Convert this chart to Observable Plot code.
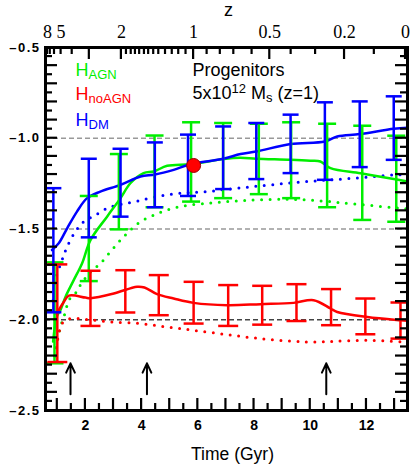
<!DOCTYPE html>
<html>
<head>
<meta charset="utf-8">
<script src="https://cdn.jsdelivr.net/npm/d3@7"></script>
<script src="https://cdn.jsdelivr.net/npm/@observablehq/plot@0.6"></script>
<style>
  body { margin: 0; background: white; }
  #chart svg g[aria-label="y-axis tick label"] text { letter-spacing: 1.5px; }
</style>
</head>
<body>
<div id="chart"></div>
<script>
// ---------- data ----------
// H_DM (blue)
const dmT  = [0.81, 1.05, 1.35, 1.70, 2.06, 2.53, 3.25, 3.96, 4.47, 5.14, 5.74, 6.9, 7.52, 8.08, 9.3, 10.52, 10.96, 11.76, 12.97, 13.46];
const dmV  = [-1.616, -1.579, -1.496, -1.404, -1.330, -1.294, -1.257, -1.211, -1.200, -1.174, -1.143, -1.113, -1.087, -1.073, -1.032, -1.018, -0.990, -0.977, -0.948, -0.942];
const dmDT = [0.85, 0.93, 1.17, 1.35, 1.64, 1.94, 2.36, 2.77, 3.19, 3.78, 4.43, 5.14, 5.74, 6.33, 7.04, 8.0, 9.18, 10.36, 11.55, 12.97, 13.46];
const dmDV = [-1.892, -1.782, -1.671, -1.598, -1.515, -1.460, -1.423, -1.386, -1.367, -1.349, -1.325, -1.307, -1.299, -1.294, -1.281, -1.266, -1.248, -1.233, -1.220, -1.202, -1.200];
const dmBarT  = [0.86, 2.12, 3.25, 4.47, 5.65, 6.9, 8.08, 9.3, 10.52, 11.76, 12.97];
const dmBarHi = [-1.275, -1.113, -1.058, -1.023, -0.980, -0.935, -0.916, -0.870, -0.802, -0.797, -0.769];
const dmBarLo = [-1.959, -1.546, -1.432, -1.380, -1.318, -1.280, -1.225, -1.192, -1.229, -1.159, -1.119];

// H_AGN (green)
const agnT  = [0.85, 0.99, 1.11, 1.29, 1.58, 1.88, 2.18, 2.77, 3.25, 3.6, 4.07, 4.43, 4.91, 5.74, 6.92, 7.5, 8.08, 9.3, 10.0, 10.36, 10.72, 11.79, 12.97, 13.46];
const agnV  = [-2.12, -1.98, -1.947, -1.874, -1.783, -1.69, -1.561, -1.432, -1.33, -1.248, -1.192, -1.183, -1.152, -1.143, -1.115, -1.108, -1.113, -1.119, -1.124, -1.128, -1.165, -1.193, -1.224, -1.238];
const agnDT = [0.9, 1.11, 1.29, 1.41, 1.64, 1.82, 2.18, 2.53, 2.89, 3.25, 3.6, 3.96, 4.43, 4.91, 5.5, 6.33, 7.04, 7.52, 7.99, 9.18, 10.36, 11.55, 13.21, 13.46];
const agnDV = [-2.2, -2.04, -1.957, -1.892, -1.855, -1.809, -1.736, -1.69, -1.625, -1.561, -1.506, -1.46, -1.423, -1.395, -1.373, -1.358, -1.349, -1.344, -1.34, -1.336, -1.345, -1.362, -1.386, -1.39];
const agnBarT  = [0.9, 2.12, 3.19, 4.46, 5.76, 6.9, 8.17, 9.32, 10.6, 11.85, 13.06];
const agnBarHi = [-1.684, -1.318, -1.087, -0.985, -0.912, -0.916, -0.920, -0.912, -0.920, -0.931, -0.986];
const agnBarLo = [-2.240, -1.787, -1.502, -1.380, -1.349, -1.330, -1.308, -1.330, -1.380, -1.450, -1.460];

// H_noAGN (red)
const noT  = [0.97, 1.05, 1.23, 1.41, 2.0, 2.18, 3.01, 3.84, 4.1, 4.55, 5.14, 5.85, 7.04, 8.23, 9.41, 10.12, 10.72, 10.96, 12.03, 13.21, 13.46];
const noV  = [-1.97, -1.947, -1.902, -1.867, -1.878, -1.881, -1.855, -1.818, -1.822, -1.859, -1.883, -1.907, -1.92, -1.914, -1.907, -1.892, -1.938, -1.957, -1.985, -2.003, -2.006];
const noDT = [0.92, 1.05, 1.17, 1.47, 2.06, 2.89, 3.96, 4.91, 5.85, 7.04, 8.23, 9.41, 10.12, 10.84, 12.03, 13.45];
const noDV = [-2.2, -2.08, -2.021, -1.993, -1.999, -2.012, -2.021, -2.04, -2.058, -2.082, -2.104, -2.119, -2.123, -2.119, -2.113, -2.123];
const noBarT  = [1.0, 2.18, 3.42, 4.61, 5.85, 7.08, 8.29, 9.51, 10.74, 11.96, 13.21];
const noBarHi = [-1.695, -1.730, -1.727, -1.754, -1.791, -1.809, -1.813, -1.804, -1.831, -1.883, -1.905];
const noBarLo = [-2.233, -2.034, -1.960, -1.975, -2.021, -2.034, -2.027, -2.007, -2.030, -2.080, -2.104];

// selected halo (z=1)
const markerT = [5.85];
const markerV = [-1.15];

// arrows
const arrowT = [1.47, 4.19, 10.57];
const arrowBase = -2.41;
const arrowTip = -2.24;

// reference levels
const refLevels = [-1.0, -1.5, -2.0];

// axes
const xDomain = [0.58, 13.46];
const yDomain = [-2.5, -0.5];
const xLabelTicks = [2, 4, 6, 8, 10, 12];
const yLabelTicks = [-2.5, -2.0, -1.5, -1.0, -0.5];
const zLabels = ["8", "5", "2", "1", "0.5", "0.2", "0"];
const zLabelTimes = [0.65, 1.135, 3.28, 5.85, 8.56, 11.22, 13.39];
const zMajorTimes = [2.14, 3.28, 5.85, 8.56, 11.22, 13.39];
const zMinorTimes = [0.65, 0.75, 0.9, 1.135, 1.53, 3.46, 3.63, 3.78, 3.93, 4.10, 4.25, 4.43, 4.61, 4.85, 5.09, 5.32, 5.58, 6.33, 6.80, 7.28, 7.93, 9.32, 10.19, 12.28];

const legendLabels = ["H_{AGN}", "H_{noAGN}", "H_{DM}"];
const noteLines = ["Progenitors", "5x10^{12} M_{s} (z=1)"];
const xTitle = "Time (Gyr)";
const zTitle = "z";

// ---------- build ----------
const W = 415, HT = 465, MT = 47, MR = 8, MB = 55, ML = 45;
const GREEN = "#00ee00", RED = "#ff0000", BLUE = "#0000ff";
const rows = (ts, vs) => ts.map((t, i) => ({t, v: vs[i]}));
const bars = (ts, lo, hi) => ts.map((t, i) => ({t, lo: lo[i], hi: hi[i]}));
const capSymbol = {draw(ctx, size) { const w = Math.sqrt(size / Math.PI); ctx.moveTo(-w, 0); ctx.lineTo(w, 0); }};

function errorBars(data, color, capR) {
  return [
    Plot.ruleX(data, {x: "t", y1: "lo", y2: "hi", stroke: color, strokeWidth: 2.5}),
    Plot.dot(data, {x: "t", y: "hi", symbol: capSymbol, r: capR, fill: "none", stroke: color, strokeWidth: 2.5, clip: true}),
    Plot.dot(data, {x: "t", y: "lo", symbol: capSymbol, r: capR, fill: "none", stroke: color, strokeWidth: 2.5, clip: true})
  ];
}
const solid = (data, color) => Plot.line(data, {x: "t", y: "v", stroke: color, strokeWidth: 2.5, curve: "catmull-rom"});
const dotted = (data, color) => Plot.line(data, {x: "t", y: "v", stroke: color, strokeWidth: 3, strokeDasharray: "0,8.5", strokeLinecap: "round", curve: "catmull-rom"});

const zMap = new Map(zLabelTimes.map((t, i) => [t, zLabels[i]]));
const yMajor = d3.range(-24, -5, 1).map(k => k / 10);
const yMinor = d3.range(-25, -5, 1).map(k => k / 10 + 0.05);
const xMajor = d3.range(1, 14, 1);
const xMinor = d3.range(1, 14, 1).map(k => k + 0.5).filter(k => k < 13.46);

const sans = "'Liberation Sans', Arial, Helvetica, sans-serif";

const chart = Plot.plot({
  width: W,
  height: HT,
  marginTop: MT,
  marginRight: MR,
  marginBottom: MB,
  marginLeft: ML,
  x: {domain: xDomain, label: null},
  y: {domain: yDomain, label: null},
  style: {fontFamily: sans, background: "white", color: "black"},
  marks: [
    Plot.ruleY(refLevels, {y: d => d, stroke: d => d === -2.0 ? "#444" : "#999", strokeWidth: 1.3, strokeDasharray: "5,3"}),
    dotted(rows(agnDT, agnDV), GREEN),
    dotted(rows(noDT, noDV), RED),
    dotted(rows(dmDT, dmDV), BLUE),
    solid(rows(agnT, agnV), GREEN),
    solid(rows(noT, noV), RED),
    solid(rows(dmT, dmV), BLUE),
    ...errorBars(bars(agnBarT, agnBarLo, agnBarHi), GREEN, 9),
    ...errorBars(bars(noBarT, noBarLo, noBarHi), RED, 10),
    ...errorBars(bars(dmBarT, dmBarLo, dmBarHi), BLUE, 8),
    Plot.dot(markerT.map((t, i) => ({t, v: markerV[i]})), {x: "t", y: "v", r: 7, fill: RED, stroke: "#990000", strokeWidth: 1}),
    Plot.arrow(arrowT, {x1: d => d, x2: d => d, y1: arrowBase, y2: arrowTip, stroke: "black", strokeWidth: 2, headLength: 10, headAngle: 50}),

    Plot.frame({stroke: "black", strokeWidth: 3}),

    // tick labels
    Plot.axisY(yLabelTicks, {anchor: "left", tickSize: 0, tickPadding: 5, tickFormat: d => d.toFixed(1).replace("-", "\u2013"), fontSize: 13, fontWeight: "bold", label: null}),
    Plot.axisX(xLabelTicks, {anchor: "bottom", tickSize: 0, tickPadding: 10, fontSize: 14, fontWeight: "bold", label: null}),
    Plot.axisX(zLabelTimes, {anchor: "top", tickSize: 0, tickPadding: 10, tickFormat: d => zMap.get(d), fontSize: 18, fontFamily: "'Liberation Serif', 'Times New Roman', serif", label: null}),

    // titles
    Plot.text([xTitle], {frameAnchor: "bottom", dx: 6, dy: 49, text: d => d, fontSize: 17.5, lineAnchor: "bottom", fill: "black"}),
    Plot.text([zTitle], {frameAnchor: "top", dx: 2, dy: -32, text: d => d, fontSize: 18, lineAnchor: "bottom", fill: "black"}),

    // legend
    Plot.text([legendLabels[0]], {frameAnchor: "top-left", dx: 30, dy: 28, text: d => d, textAnchor: "start", lineAnchor: "bottom", fontSize: 18, fill: GREEN}),
    Plot.text([legendLabels[1]], {frameAnchor: "top-left", dx: 30, dy: 52, text: d => d, textAnchor: "start", lineAnchor: "bottom", fontSize: 18, fill: RED}),
    Plot.text([legendLabels[2]], {frameAnchor: "top-left", dx: 30, dy: 78, text: d => d, textAnchor: "start", lineAnchor: "bottom", fontSize: 18, fill: BLUE}),
    Plot.text([noteLines[0]], {frameAnchor: "top-left", dx: 147, dy: 28, text: d => d, textAnchor: "start", lineAnchor: "bottom", fontSize: 18, fill: "black"}),
    Plot.text([noteLines[1]], {frameAnchor: "top-left", dx: 147, dy: 51, text: d => d, textAnchor: "start", lineAnchor: "bottom", fontSize: 18, fill: "black"})
  ]
});

// inward tick marks on the four frame edges, placed through Plot's own scales
const sx = chart.scale("x"), sy = chart.scale("y");
const x0 = sx.apply(xDomain[0]), x1 = sx.apply(xDomain[1]);
const y0 = sy.apply(yDomain[0]), y1 = sy.apply(yDomain[1]);
const tg = d3.select(chart).append("g").attr("aria-label", "frame ticks").attr("stroke", "#000").attr("stroke-width", 2.2).attr("fill", "none");
function addTicks(vals, side, len) {
  for (const v of vals) {
    if (side === "left")   { const y = sy.apply(v); tg.append("line").attr("x1", x0).attr("x2", x0 + len).attr("y1", y).attr("y2", y); }
    if (side === "right")  { const y = sy.apply(v); tg.append("line").attr("x1", x1 - len).attr("x2", x1).attr("y1", y).attr("y2", y); }
    if (side === "bottom") { const x = sx.apply(v); tg.append("line").attr("x1", x).attr("x2", x).attr("y1", y0).attr("y2", y0 - len); }
    if (side === "top")    { const x = sx.apply(v); tg.append("line").attr("x1", x).attr("x2", x).attr("y1", y1).attr("y2", y1 + len); }
  }
}
addTicks(yMajor, "left", 12);
addTicks(yMinor, "left", 7);
addTicks(yMajor, "right", 12);
addTicks(yMinor, "right", 7);
addTicks(xMajor, "bottom", 12);
addTicks(xMinor, "bottom", 7);
addTicks(zMajorTimes, "top", 12);
addTicks(zMinorTimes, "top", 7);

// turn _{..} / ^{..} markers into real sub/superscript tspans
d3.select(chart).selectAll("text").each(function () {
  const el = d3.select(this);
  const s = el.text();
  if (!/[_^]\{/.test(s)) return;
  el.text(null);
  const re = /([_^])\{([^}]*)\}|([^_^]+)/g;
  let m, cur = 0;
  while ((m = re.exec(s))) {
    if (m[3] !== undefined) {
      el.append("tspan").attr("dy", -cur).text(m[3]);
      cur = 0;
    } else {
      const d = m[1] === "_" ? 3 : -6;
      el.append("tspan").attr("dy", d - cur).attr("font-size", 13).text(m[2]);
      cur = d;
    }
  }
});

document.getElementById("chart").appendChild(chart);
</script>
</body>
</html>
